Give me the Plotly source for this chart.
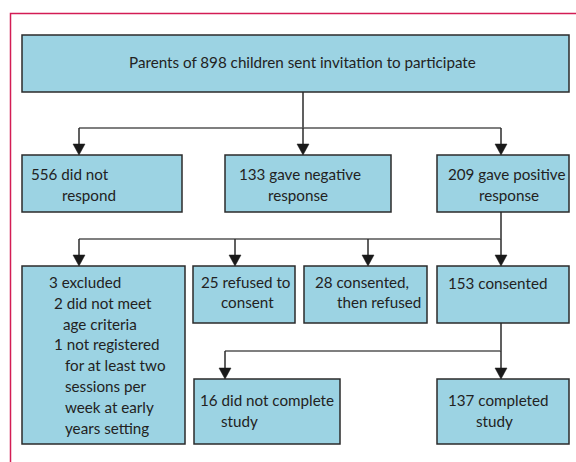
import plotly.graph_objects as go

# ---- data (flow counts and labels) ----
counts = {
    "invited": 898, "no_response": 556, "negative": 133, "positive": 209,
    "excluded": 3, "age": 2, "not_registered": 1,
    "refused": 25, "consent_refused": 28, "consented": 153,
    "not_complete": 16, "completed": 137,
}
node_lines = {
    "invited": [f"Parents of {counts['invited']} children sent invitation to participate"],
    "no_response": [f"{counts['no_response']} did not", "respond"],
    "negative": [f"{counts['negative']} gave negative", "response"],
    "positive": [f"{counts['positive']} gave positive", "response"],
    "excluded": [f"{counts['excluded']} excluded", f"{counts['age']} did not meet", "age criteria",
                 f"{counts['not_registered']} not registered", "for at least two",
                 "sessions per", "week at early", "years setting"],
    "refused": [f"{counts['refused']} refused to", "consent"],
    "consent_refused": [f"{counts['consent_refused']} consented,", "then refused"],
    "consented": [f"{counts['consented']} consented"],
    "not_complete": [f"{counts['not_complete']} did not complete", "study"],
    "completed": [f"{counts['completed']} completed", "study"],
}
edges = [
    ("invited", ["no_response", "negative", "positive"]),
    ("positive", ["excluded", "refused", "consent_refused", "consented"]),
    ("consented", ["not_complete", "completed"]),
]

# ---- layout (pixel geometry, separate from data) ----
W, H = 576, 462
boxes = {  # x0, y0, x1, y1
    "invited": (22, 35, 569, 92),
    "no_response": (22, 155, 182, 212),
    "negative": (225, 155, 391, 212),
    "positive": (437, 155, 569, 212),
    "excluded": (22, 266, 185, 444),
    "refused": (193, 266, 295, 323),
    "consent_refused": (304, 266, 427, 323),
    "consented": (437, 266, 569, 323),
    "not_complete": (194, 379, 340, 444),
    "completed": (437, 379, 569, 444),
}
text_pos = {  # (x start, y center) for each line
    "invited": [(127, 62)],
    "no_response": [(29, 174), (60, 195)],
    "negative": [(237, 174), (266, 195)],
    "positive": [(446, 174), (477, 195)],
    "excluded": [(47, 282), (52, 303), (61, 324), (52, 344), (63, 365), (63, 386), (63, 407), (63, 428)],
    "refused": [(199, 282), (219, 302)],
    "consent_refused": [(313, 282), (335, 302)],
    "consented": [(446, 283)],
    "not_complete": [(198, 400), (219, 421)],
    "completed": [(446, 400), (474, 421)],
}
edge_geom = {  # source x, bus y, target xs
    "invited": (303, 128, [79, 303, 501]),
    "positive": (501, 239, [79, 235, 368, 501]),
    "consented": (501, 351, [225, 501]),
}

FILL = "#9cd3e3"
EDGE = "#2b2b2b"
FONT = "Lato"

fig = go.Figure()
shapes = []
annotations = []

# red frame
shapes.append(dict(type="path", path=f"M 10.5 {H} L 10.5 13.5 L {W} 13.5",
                   line=dict(color="#d31c55", width=1.5), xref="x", yref="y"))

for key, (x0, y0, x1, y1) in boxes.items():
    shapes.append(dict(type="rect", x0=x0, y0=y0, x1=x1, y1=y1, xref="x", yref="y",
                       fillcolor=FILL, line=dict(color=EDGE, width=1.5), layer="below"))
    for line, (tx, ty) in zip(node_lines[key], text_pos[key]):
        annotations.append(dict(x=tx, y=ty, xref="x", yref="y", text=line, showarrow=False,
                                xanchor="left", yanchor="middle",
                                font=dict(family=FONT, size=15.2, color="#222")))

for src, targets in edges:
    sx, by, txs = edge_geom[src]
    sy = boxes[src][3]
    shapes.append(dict(type="line", x0=sx, y0=sy, x1=sx, y1=by, xref="x", yref="y",
                       line=dict(color=EDGE, width=1.5)))
    shapes.append(dict(type="line", x0=min(txs), y0=by, x1=max(txs), y1=by, xref="x", yref="y",
                       line=dict(color="#555", width=1.5)))
    for t, tx in zip(targets, txs):
        ty = boxes[t][1]
        shapes.append(dict(type="line", x0=tx, y0=by, x1=tx, y1=ty - 6, xref="x", yref="y",
                           line=dict(color=EDGE, width=1.5)))
        shapes.append(dict(type="path",
                           path=f"M {tx-6} {ty-11} L {tx+6} {ty-11} L {tx} {ty} Z",
                           fillcolor="#1a1a1a", line=dict(color="#1a1a1a", width=0.5),
                           xref="x", yref="y"))

fig.add_trace(go.Scatter(x=[0, W], y=[0, H], mode="markers", marker=dict(opacity=0),
                         hoverinfo="skip", showlegend=False))
fig.update_layout(
    width=W, height=H, margin=dict(l=0, r=0, t=0, b=0),
    paper_bgcolor="white", plot_bgcolor="white",
    xaxis=dict(range=[0, W], visible=False, fixedrange=True),
    yaxis=dict(range=[H, 0], visible=False, fixedrange=True),
    shapes=shapes, annotations=annotations, showlegend=False,
)
fig.write_html("out.html", config={"displayModeBar": False},
               post_script="document.body.style.margin='0';document.body.style.overflow='hidden';")
